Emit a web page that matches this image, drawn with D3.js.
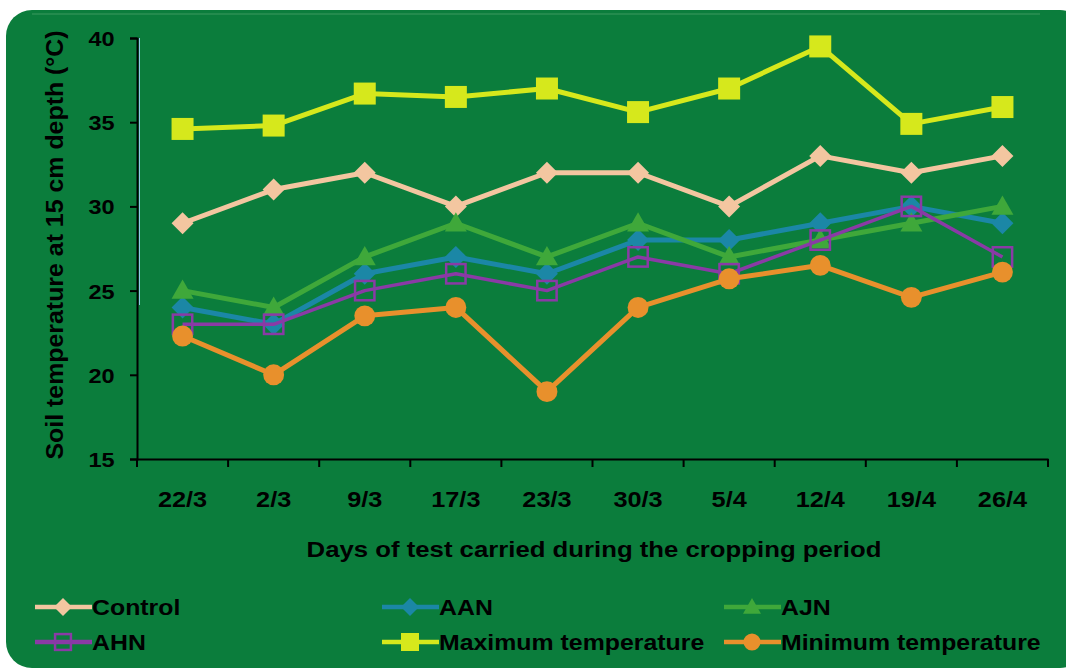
<!DOCTYPE html>
<html><head><meta charset="utf-8">
<script src="https://cdn.jsdelivr.net/npm/d3@7"></script>
<style>body{margin:0;background:#fff}svg{display:block}text{font-family:"Liberation Sans",Arial,sans-serif;font-weight:bold;fill:#000}</style>
</head><body><svg id="c" width="1066" height="672"></svg>
<script>
const categories=["22/3","2/3","9/3","17/3","23/3","30/3","5/4","12/4","19/4","26/4"];
const control=[29,31,32,30,32,32,30,33,32,33];
const aan=[24,23,26,27,26,28,28,29,30,29];
const ajn=[25,24,27,29,27,29,27,28,29,30];
const ahn=[23,23,25,26,25,27,26,28,30,27];
const maxTemp=[34.6,34.8,36.7,36.5,37.0,35.6,37.0,39.5,34.9,35.9];
const minTemp=[22.3,20.0,23.5,24.0,19.0,24.0,25.7,26.5,24.6,26.1];
const yTicks=[15,20,25,30,35,40];
const seriesNames=["Control","AAN","AJN","AHN","Maximum temperature","Minimum temperature"];

const series=[
 {name:seriesNames[0],values:control,color:"#f3c6a0",marker:"diamond"},
 {name:seriesNames[1],values:aan,color:"#1b87a6",marker:"diamond"},
 {name:seriesNames[2],values:ajn,color:"#3fa83a",marker:"triangle"},
 {name:seriesNames[3],values:ahn,color:"#8a3aa6",marker:"squareHollow"},
 {name:seriesNames[4],values:maxTemp,color:"#d6e81c",marker:"square"},
 {name:seriesNames[5],values:minTemp,color:"#e8902c",marker:"circle"}
];

const svg=d3.select("#c");
svg.append("rect").attr("x",6).attr("y",10).attr("width",1080).attr("height",658).attr("rx",26).attr("fill","#0b7d3c");
svg.append("path").attr("d","M32,14 H1040").attr("stroke","#3c9a5e").attr("stroke-width",2).attr("opacity",0.5);

const x0=137,x1=1048,yTop=38,yBot=459;
const x=d3.scaleBand().domain(categories).range([x0,x1]);
const y=d3.scaleLinear().domain([15,40]).range([yBot,yTop]);

svg.append("line").attr("x1",139.5).attr("x2",139.5).attr("y1",yTop).attr("y2",305).attr("stroke","#8fc9e6").attr("stroke-width",1);

// y axis
const ya=svg.append("g").attr("transform",`translate(${x0},0)`).call(d3.axisLeft(y).tickValues(yTicks).tickSize(7).tickPadding(0));
ya.select(".domain").attr("stroke","#000").attr("stroke-width",2);
ya.selectAll(".tick line").attr("stroke","#000").attr("stroke-width",2);
ya.selectAll(".tick text").attr("font-size",21).attr("font-family","Liberation Sans, Arial").attr("font-weight","bold").attr("fill","#000")
  .attr("x",-20).attr("dy","0.36em").attr("transform","scale(1.12,1)");

// x axis
const xa=svg.append("g").attr("transform",`translate(0,${yBot})`).call(d3.axisBottom(x).tickSize(0).tickPadding(0));
xa.select(".domain").attr("stroke","#000").attr("stroke-width",2);
xa.selectAll(".tick text").attr("font-size",22).attr("font-family","Liberation Sans, Arial").attr("font-weight","bold").attr("fill","#000")
  .attr("y",48).attr("dy",0).attr("transform","scale(1.15,1)");
const bounds=categories.map(c=>x(c)).concat([x1]);
svg.append("g").selectAll("line").data(bounds).join("line")
 .attr("x1",d=>d).attr("x2",d=>d).attr("y1",yBot).attr("y2",yBot+8).attr("stroke","#000").attr("stroke-width",2);

// titles
svg.append("text").attr("transform","translate(594,557) scale(1.17,1)").attr("text-anchor","middle").attr("font-size",22).text("Days of test carried during the cropping period");
svg.append("text").attr("transform","translate(63,245) rotate(-90) scale(1.06,1)").attr("text-anchor","middle").attr("font-size",23.5).text("Soil temperature at 15 cm depth (°C)");

function drawMarker(g,type,color,cx,cy,s){
 if(type==="diamond"){g.append("path").attr("d",`M${cx},${cy-s} L${cx+s},${cy} L${cx},${cy+s} L${cx-s},${cy} Z`).attr("fill",color);}
 else if(type==="triangle"){g.append("path").attr("d",`M${cx},${cy-s} L${cx+s},${cy+s*0.75} L${cx-s},${cy+s*0.75} Z`).attr("fill",color);}
 else if(type==="square"){g.append("rect").attr("x",cx-s).attr("y",cy-s).attr("width",s*2).attr("height",s*2).attr("fill",color);}
 else if(type==="squareHollow"){g.append("rect").attr("x",cx-s*0.88).attr("y",cy-s*0.88).attr("width",s*1.76).attr("height",s*1.76).attr("fill","none").attr("stroke",color).attr("stroke-width",2.5);}
 else if(type==="circle"){g.append("circle").attr("cx",cx).attr("cy",cy).attr("r",s*0.95).attr("fill",color);}
}

const cx=c=>x(c)+x.bandwidth()/2;
series.forEach(s=>{
 const g=svg.append("g");
 const line=d3.line().x((d,i)=>cx(categories[i])).y(d=>y(d));
 g.append("path").datum(s.values).attr("d",line).attr("fill","none").attr("stroke",s.color).attr("stroke-width",s.marker==="squareHollow"?3.5:5).attr("stroke-linejoin","round");
 s.values.forEach((v,i)=>drawMarker(g,s.marker,s.color,cx(categories[i]),y(v),11));
});

// legend
const legPos=[[35,607],[382,607],[724,607],[35,642],[382,642],[724,642]];
series.forEach((s,i)=>{
 const [lx,ly]=legPos[i];
 const g=svg.append("g");
 g.append("line").attr("x1",lx).attr("x2",lx+57).attr("y1",ly).attr("y2",ly).attr("stroke",s.color).attr("stroke-width",4.5);
 drawMarker(g,s.marker,s.color,lx+28,ly,9);
 g.append("text").attr("transform",`translate(${lx+57},${ly+8}) scale(1.13,1)`).attr("font-size",22).text(s.name);
});
</script></body></html>
